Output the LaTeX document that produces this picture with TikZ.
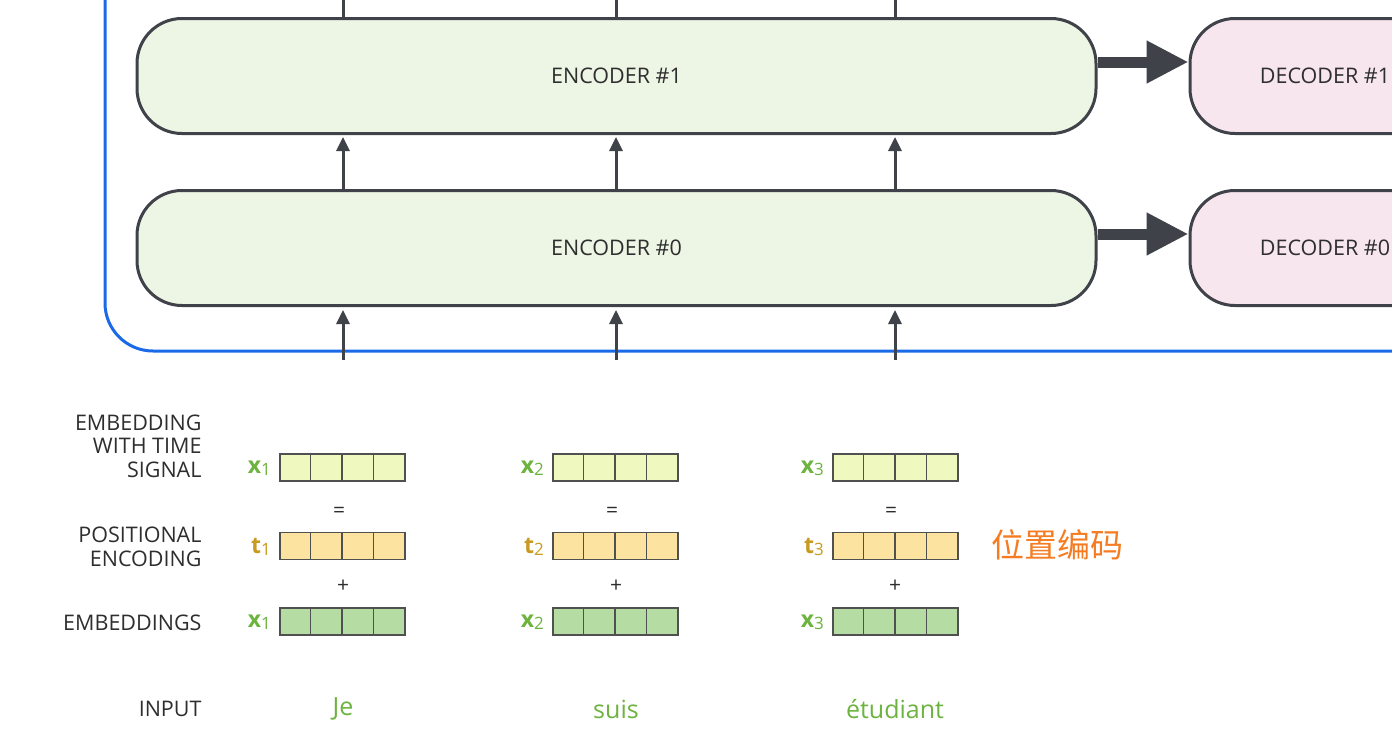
\documentclass[tikz,border=0pt]{standalone}
\usepackage{fontspec}
\setmainfont{Open Sans}
\newfontfamily\cjk{Noto Sans CJK SC}
\usetikzlibrary{arrows.meta}
\definecolor{frameblue}{HTML}{1A6AE8}
\definecolor{edge}{HTML}{3F4249}
\definecolor{encfill}{HTML}{EDF5E5}
\definecolor{decfill}{HTML}{F8E6EE}
\definecolor{vtop}{HTML}{EFF8BF}
\definecolor{vmid}{HTML}{FDE3A0}
\definecolor{vbot}{HTML}{B5DCA2}
\definecolor{cellline}{HTML}{505050}
\definecolor{xgreen}{HTML}{6DB33F}
\definecolor{tgold}{HTML}{C99A20}
\definecolor{txt}{HTML}{2E2E2E}
\definecolor{cjkorange}{HTML}{F57C22}
\tikzset{
  coder/.style={draw=edge, line width=3pt, rounded corners=45pt, minimum height=115pt, inner sep=0pt, font=\fontsize{21.5}{25}\selectfont, text=txt},
  enc/.style={coder, fill=encfill, minimum width=959pt},
  dec/.style={coder, fill=decfill, minimum width=270pt},
  uparrow/.style={draw=edge, line width=3pt, -{Triangle[width=13pt,length=14pt]}},
  stub/.style={draw=edge, line width=3pt},
  bigarrow/.style={draw=edge, line width=11pt, -{Triangle[width=40pt,length=42pt]}},
  vecbox/.style={draw=cellline, line width=1.2pt, minimum width=125pt, minimum height=27pt, inner sep=0pt},
  rowlabel/.style={anchor=east, align=right, text=txt, font=\fontsize{21.5}{23.5}\selectfont},
  sym/.style={text=txt, font=\fontsize{21}{24}\selectfont},
  xlab/.style={anchor=east, text=xgreen, font=\fontsize{23}{24}\selectfont\bfseries},
  tlab/.style={anchor=east, text=tgold, font=\fontsize{23}{24}\selectfont\bfseries},
  word/.style={text=xgreen, font=\fontsize{25}{28}\selectfont},
}
\newcommand{\sub}[1]{\raisebox{-2pt}{\fontsize{17}{17}\selectfont\mdseries #1}}
\begin{document}
\begin{tikzpicture}[x=1pt,y=-1pt]
\useasboundingbox (0,0) rectangle (1392,737);
\clip (0,0) rectangle (1392,737);
% blue frame
\draw[frameblue, line width=3pt, rounded corners=48pt] (105,-10) -- (105,351) -- (1410,351);
% encoders and decoders
\node[enc] (enc1) at (616.5,76) {ENCODER \#1};
\node[enc] (enc0) at (616.5,248) {ENCODER \#0};
\node[dec] (dec1) at (1325,76) {DECODER \#1};
\node[dec] (dec0) at (1325,248) {DECODER \#0};
\draw[bigarrow] ([yshift=14pt]enc1.east) -- ([yshift=14pt]dec1.west);
\draw[bigarrow] ([yshift=14pt]enc0.east) -- ([yshift=14pt]dec0.west);
% columns
\coordinate (c1) at (343,0);
\coordinate (c2) at (616,0);
\coordinate (c3) at (895,0);
\foreach \c in {c1,c2,c3}{
  \draw[stub] (\c) -- (enc1.north -| \c);
  \draw[uparrow, shorten >=2pt] (enc0.north -| \c) -- (enc1.south -| \c);
}
\coordinate (bot1) at (343,360);
\coordinate (bot2) at (616,360);
\coordinate (bot3) at (895,360);
\draw[uparrow, shorten >=3pt] (bot1) -- (enc0.south -| bot1);
\draw[uparrow, shorten >=3pt] (bot2) -- (enc0.south -| bot2);
\draw[uparrow, shorten >=3pt] (bot3) -- (enc0.south -| bot3);
% row labels
\node[rowlabel] (l1) at (205,446) {EMBEDDING\\WITH TIME\\SIGNAL};
\node[rowlabel] (l2) at (205,547) {POSITIONAL\\ENCODING};
\node[rowlabel] (l3) at (205,623) {EMBEDDINGS};
\node[rowlabel] (l4) at (205,709) {INPUT};
% vectors
\foreach \i/\cx/\eq/\pl/\w in {1/342.5/339/343/Je, 2/615.5/612/616/suis, 3/895.5/891/895/étudiant}{
  \node[vecbox, fill=vtop] (e\i) at (\cx,467.5) {};
  \node[vecbox, fill=vmid] (p\i) at (\cx,546) {};
  \node[vecbox, fill=vbot] (m\i) at (\cx,621.5) {};
  \foreach \r in {e,p,m}{
    \foreach \k in {1,2,3}{
      \draw[cellline, line width=1.2pt] ([xshift={\k*31.25pt}]\r\i.north west) -- ([xshift={\k*31.25pt}]\r\i.south west);
    }
  }
  \node[xlab] (xe\i) at ([xshift=-5pt,yshift=-1pt]e\i.west) {x\sub{\i}};
  \node[tlab] (tp\i) at ([xshift=-5pt,yshift=-1pt]p\i.west) {t\sub{\i}};
  \node[xlab] (xm\i) at ([xshift=-5pt,yshift=-1pt]m\i.west) {x\sub{\i}};
  \node[sym] (eq\i) at (\eq,512) {=};
  \node[sym] (pl\i) at (\pl,586) {+};
  \node[word] (w\i) at (\pl,709) {\w};
}
\node[anchor=west, text=cjkorange, font=\cjk\fontsize{33}{36}\selectfont] (pe) at (988,545) {位置编码};
\end{tikzpicture}
\end{document}
